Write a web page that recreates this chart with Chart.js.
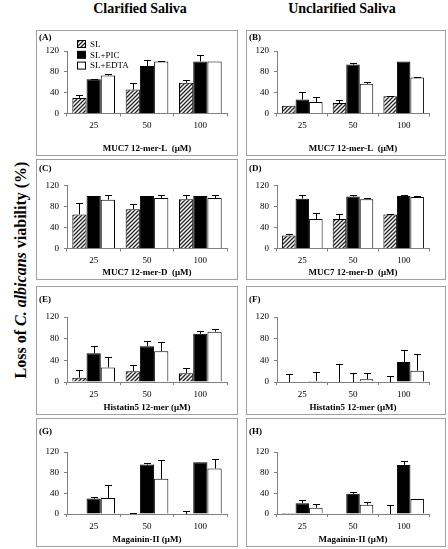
<!DOCTYPE html>
<html>
<head>
<meta charset="utf-8">
<script src="https://cdn.jsdelivr.net/npm/chart.js@4.4.0/dist/chart.umd.min.js"></script>
<style>
  body { margin: 0; background: #fff; font-family: "Liberation Serif", "Times New Roman", serif; }
  #fig { position: relative; width: 448px; height: 549px; overflow: hidden; }
  .colTitle { position: absolute; top: 1px; width: 220px; text-align: center; font-weight: bold; font-size: 14px;
              font-family: "Liberation Serif", serif; }
  .ylab { position: absolute; left: 21px; top: 270px; transform: translate(-50%, -50%) rotate(-90deg);
          white-space: nowrap; font-weight: bold; font-size: 16px; font-family: "Liberation Serif", serif; }
  .panel { position: absolute; border: 1px solid #a0a0a0; box-sizing: border-box; }
  .panel canvas { position: absolute; left: 0; top: 0; }
  .tag { position: absolute; font-weight: bold; font-size: 9px; line-height: 10px; font-family: "Liberation Serif", serif; }
</style>
</head>
<body>
<div id="fig">
  <div class="colTitle" style="left:30px">Clarified Saliva</div>
  <div class="colTitle" style="left:232px">Unclarified Saliva</div>
  <div class="ylab">Loss of <i>C. albicans</i> viability (%)</div>
</div>
<script>
// shared labels
const doses = ['25', '50', '100'];
const seriesNames = ['SL', 'SL+PIC', 'SL+EDTA'];
const xTitles = ['MUC7 12-mer-L  (\u03bcM)', 'MUC7 12-mer-D  (\u03bcM)', 'Histatin5 12-mer (\u03bcM)', 'Magainin-II (\u03bcM)'];
const yTicks = [0, 40, 80, 120];

// (A) clarified, MUC7 12-mer-L
const slA = [30, 46, 59],   slAErr = [6, 13, 6];
const picA = [66, 91, 100], picAErr = [1, 12, 13];
const edtaA = [73, 100, 100], edtaAErr = [3, 1, 0];
// (B) unclarified, MUC7 12-mer-L
const slB = [15, 20, 33],   slBErr = [0, 5, 1];
const picB = [27, 94, 100], picBErr = [14, 3, 0];
const edtaB = [22, 57, 69], edtaBErr = [10, 4, 1];
// (C) clarified, MUC7 12-mer-D
const slC = [65, 75, 94],   slCErr = [21, 9, 7];
const picC = [100, 100, 100], picCErr = [0, 0, 0];
const edtaC = [93, 96, 96], edtaCErr = [9, 6, 6];
// (D) unclarified, MUC7 12-mer-D
const slD = [25, 56, 65],   slDErr = [3, 9, 1];
const picD = [95, 99, 100], picDErr = [6, 3, 2];
const edtaD = [56, 94, 98], edtaDErr = [12, 3, 2];
// (E) clarified, Histatin5 12-mer
const slE = [8, 20, 16],    slEErr = [14, 12, 9];
const picE = [53, 66, 89],  picEErr = [13, 9, 5];
const edtaE = [27, 57, 93], edtaEErr = [19, 17, 4];
// (F) unclarified, Histatin5 12-mer
const slF = [0, 0, 0],      slFErr = [15, 33, 12];
const picF = [1, 0, 37],    picFErr = [0, 17, 23];
const edtaF = [2, 5, 21],   edtaFErr = [17, 11, 30];
// (G) clarified, Magainin-II
const slG = [0, 0, 0],      slGErr = [0, 1, 5];
const picG = [30, 96, 100], picGErr = [3, 2, 0];
const edtaG = [31, 68, 88], edtaGErr = [25, 36, 19];
// (H) unclarified, Magainin-II
const slH = [2, 1, 0],      slHErr = [0, 0, 18];
const picH = [21, 39, 95],  picHErr = [6, 3, 8];
const edtaH = [12, 18, 29], edtaHErr = [8, 5, 1];

const panelData = {
  A: [[slA, slAErr], [picA, picAErr], [edtaA, edtaAErr]],
  B: [[slB, slBErr], [picB, picBErr], [edtaB, edtaBErr]],
  C: [[slC, slCErr], [picC, picCErr], [edtaC, edtaCErr]],
  D: [[slD, slDErr], [picD, picDErr], [edtaD, edtaDErr]],
  E: [[slE, slEErr], [picE, picEErr], [edtaE, edtaEErr]],
  F: [[slF, slFErr], [picF, picFErr], [edtaF, edtaFErr]],
  G: [[slG, slGErr], [picG, picGErr], [edtaG, edtaGErr]],
  H: [[slH, slHErr], [picH, picHErr], [edtaH, edtaHErr]]
};

// page layout (pixels)
const colX = [36, 246], colW = [202, 200], colPadR = [10, 16];
const rowY = [30, 159, 286, 418], rowH = [126, 121, 129, 129];
const rowTop = [21, 26.5, 31, 34];     // 120 line, from panel top
const rowZero = [83.5, 89.5, 96, 96];  // 0 line, from panel top
const tagY = [1, 3, 7, 7];

const AXIS = '#808080';
const FONT = 'Liberation Serif';

function hatch() {
  const c = document.createElement('canvas');
  c.width = 4; c.height = 4;
  const g = c.getContext('2d');
  g.fillStyle = '#fff';
  g.fillRect(0, 0, 4, 4);
  g.strokeStyle = '#222';
  g.lineWidth = 1.3;
  g.beginPath();
  g.moveTo(-1, 5); g.lineTo(5, -1);
  g.moveTo(-1, 1); g.lineTo(1, -1);
  g.moveTo(3, 5); g.lineTo(5, 3);
  g.stroke();
  return g.createPattern(c, 'repeat');
}
const fills = [hatch(), '#000', '#fff'];

// upward T error bars
const errorBars = {
  id: 'errorBars',
  afterDatasetsDraw(chart) {
    const ctx = chart.ctx, y = chart.scales.y;
    ctx.save();
    ctx.strokeStyle = '#000';
    ctx.lineWidth = 1;
    chart.data.datasets.forEach((ds, i) => {
      chart.getDatasetMeta(i).data.forEach((bar, j) => {
        const e = ds.errors[j];
        if (!e) return;
        const y0 = y.getPixelForValue(ds.data[j]);
        const y1 = Math.round(y.getPixelForValue(ds.data[j] + e)) + 0.5;
        const x = Math.round(bar.x) + 0.5;
        ctx.beginPath();
        ctx.moveTo(x, y0); ctx.lineTo(x, y1);
        ctx.moveTo(x - 3.5, y1); ctx.lineTo(x + 3.5, y1);
        ctx.stroke();
      });
    });
    ctx.restore();
  }
};

// legend drawn inside panel A's plot
const boxLegend = {
  id: 'boxLegend',
  afterDraw(chart, args, opts) {
    if (!opts.show) return;
    const ctx = chart.ctx, ca = chart.chartArea;
    ctx.save();
    ctx.font = '9px "' + FONT + '"';
    ctx.textBaseline = 'middle';
    chart.data.datasets.forEach((ds, i) => {
      const x = ca.left + 10.5, y = ca.top - 10.5 + i * 10.8;
      ctx.fillStyle = ds.backgroundColor;
      ctx.fillRect(x, y, 8, 7);
      ctx.strokeStyle = '#000';
      ctx.lineWidth = 1;
      ctx.strokeRect(x, y, 8, 7);
      ctx.fillStyle = '#000';
      ctx.fillText(ds.label, x + 12.5, y + 4);
    });
    ctx.restore();
  }
};

const fig = document.getElementById('fig');
'ABCDEFGH'.split('').forEach((id, k) => {
  const col = k % 2, row = Math.floor(k / 2);
  const div = document.createElement('div');
  div.className = 'panel';
  div.style.left = colX[col] + 'px';
  div.style.top = rowY[row] + 'px';
  div.style.width = colW[col] + 'px';
  div.style.height = rowH[row] + 'px';
  const w = colW[col] - 2, h = rowH[row] - 2;
  const cv = document.createElement('canvas');
  cv.width = w; cv.height = h;
  div.appendChild(cv);
  const tag = document.createElement('div');
  tag.className = 'tag';
  tag.style.left = '2px';
  tag.style.top = tagY[row] + 'px';
  tag.textContent = '(' + id + ')';
  div.appendChild(tag);
  fig.appendChild(div);

  const xBoxH = h - (rowZero[row] - 1);
  new Chart(cv, {
    type: 'bar',
    data: {
      labels: doses,
      datasets: panelData[id].map((s, i) => ({
        label: seriesNames[i],
        data: s[0],
        errors: s[1],
        backgroundColor: fills[i],
        borderColor: '#000',
        borderWidth: 1,
        borderSkipped: 'start',
        categoryPercentage: 0.8,
        barPercentage: 1.0
      }))
    },
    options: {
      responsive: false,
      animation: false,
      devicePixelRatio: 1,
      layout: { padding: { left: 0, right: colPadR[col], top: rowTop[row] - 1, bottom: 0 } },
      plugins: {
        legend: { display: false },
        tooltip: { enabled: false },
        boxLegend: { show: id === 'A' }
      },
      scales: {
        x: {
          afterFit: s => { s.height = xBoxH; },
          grid: { display: true, offset: true, drawOnChartArea: false, drawTicks: true, tickLength: 3, color: AXIS },
          border: { color: AXIS },
          ticks: { color: '#000', padding: 4, font: { family: FONT, size: 9 } },
          title: { display: true, text: xTitles[row], color: '#000', padding: { top: 0, bottom: 1 },
                   font: { family: FONT, size: 9, weight: 'bold' } }
        },
        y: {
          min: 0, max: 120,
          afterFit: s => { s.width = 30; },
          afterBuildTicks: s => { s.ticks = yTicks.map(v => ({ value: v })); },
          grid: { drawOnChartArea: false, drawTicks: true, tickLength: 3, color: AXIS },
          border: { color: AXIS },
          ticks: { color: '#000', padding: 5, font: { family: FONT, size: 9 } }
        }
      }
    },
    plugins: [errorBars, boxLegend]
  });
});
</script>
</body>
</html>
